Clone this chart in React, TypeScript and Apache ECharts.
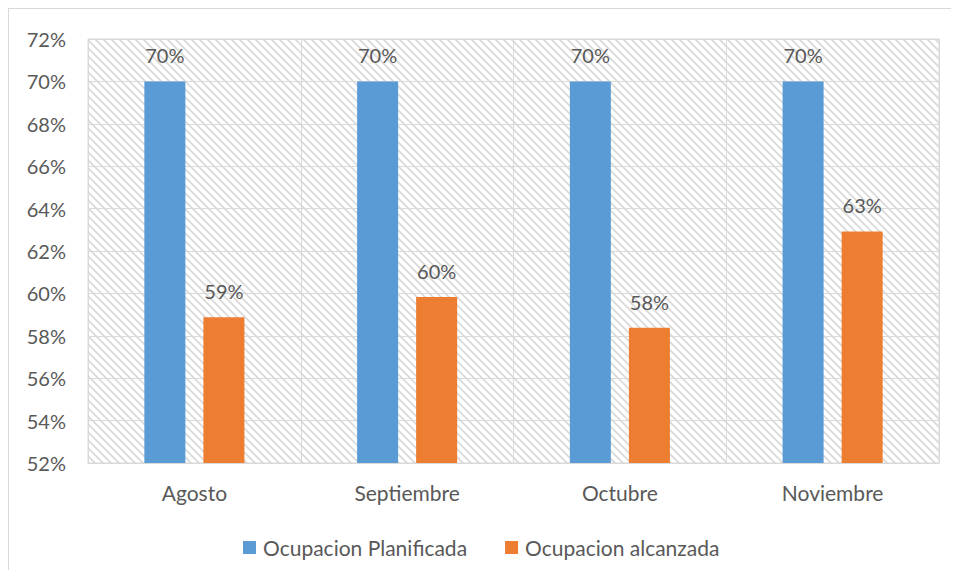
import React, { useEffect, useRef } from "react";
import * as echarts from "echarts";

const months = ["Agosto", "Septiembre", "Octubre", "Noviembre"];
const planned = [70, 70, 70, 70];
const achieved = [58.87, 59.83, 58.38, 62.92];
const seriesNames = ["Ocupacion Planificada", "Ocupacion alcanzada"];
const yMin = 52;
const yMax = 72;
const yStep = 2;

const TEXT = "#595959";
const GRID = "#d9d9d9";
const FONT = "Lato, 'Noto Sans', sans-serif";

// Light downward-diagonal hatch used for the plot background
function makeHatch(): HTMLCanvasElement {
  const c = document.createElement("canvas");
  c.width = 8;
  c.height = 8;
  const ctx = c.getContext("2d")!;
  ctx.fillStyle = "#ffffff";
  ctx.fillRect(0, 0, 8, 8);
  ctx.strokeStyle = "#dadada";
  ctx.lineWidth = 1.8;
  ctx.beginPath();
  ctx.moveTo(-2, -2);
  ctx.lineTo(10, 10);
  ctx.moveTo(-2, 6);
  ctx.lineTo(2, 10);
  ctx.moveTo(6, -2);
  ctx.lineTo(10, 2);
  ctx.stroke();
  return c;
}

export default function App() {
  const ref = useRef<HTMLDivElement>(null);

  useEffect(() => {
    if (!ref.current) return;
    const chart = echarts.init(ref.current, undefined, { renderer: "svg" });
    const hatch = makeHatch();
    const label = {
      show: true,
      position: "top" as const,
      distance: 16,
      color: TEXT,
      fontSize: 20,
      fontFamily: FONT,
      formatter: (p: any) => `${Math.round(p.value)}%`,
    };
    chart.setOption({
      animation: false,
      backgroundColor: "#ffffff",
      textStyle: { fontFamily: FONT },
      grid: {
        left: 79,
        top: 30,
        width: 851,
        height: 424,
        show: true,
        backgroundColor: { image: hatch, repeat: "repeat" },
        borderColor: GRID,
        borderWidth: 1,
      },
      legend: {
        data: seriesNames,
        left: 234,
        top: 528,
        padding: 0,
        itemWidth: 13,
        itemHeight: 13,
        itemGap: 38,
        icon: "rect",
        textStyle: { color: TEXT, fontSize: 21, fontFamily: FONT, padding: [0, 0, 0, 2] },
      },
      xAxis: {
        type: "category",
        data: months,
        axisLine: { show: true, lineStyle: { color: GRID, width: 1 } },
        axisTick: { show: false },
        splitLine: { show: true, lineStyle: { color: GRID, width: 1 } },
        axisLabel: { color: TEXT, fontSize: 21, fontFamily: FONT, margin: 19 },
      },
      yAxis: {
        type: "value",
        min: yMin,
        max: yMax,
        interval: yStep,
        axisLine: { show: false },
        axisTick: { show: false },
        splitLine: { show: true, lineStyle: { color: GRID, width: 1 } },
        axisLabel: {
          color: TEXT,
          fontSize: 20,
          fontFamily: FONT,
          margin: 22,
          formatter: "{value}%",
        },
      },
      series: [
        {
          name: seriesNames[0],
          type: "bar",
          data: planned,
          barWidth: 41,
          barGap: "44%",
          itemStyle: { color: "#5b9bd5" },
          label,
        },
        {
          name: seriesNames[1],
          type: "bar",
          data: achieved,
          barWidth: 41,
          barGap: "44%",
          itemStyle: { color: "#ed7d31" },
          label,
        },
      ],
    });
    return () => chart.dispose();
  }, []);

  return (
    <div
      ref={ref}
      style={{
        width: 943,
        height: 562,
        boxSizing: "border-box",
        borderTop: `1px solid ${GRID}`,
        borderLeft: `1px solid ${GRID}`,
      }}
    />
  );
}
